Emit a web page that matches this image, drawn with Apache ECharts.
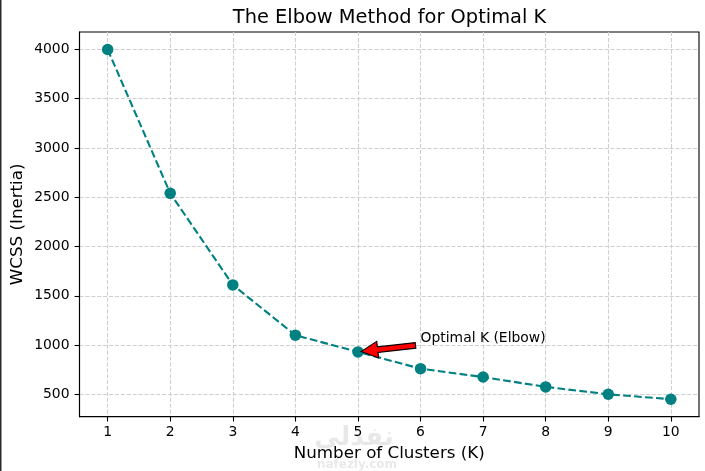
<!DOCTYPE html>
<html>
<head>
<meta charset="utf-8">
<script src="https://cdn.jsdelivr.net/npm/echarts@6/dist/echarts.min.js"></script>
<style>
html,body{margin:0;padding:0;background:#fff;}
#chart{width:705px;height:471px;}
</style>
</head>
<body>
<div id="chart"></div>
<script>
// ---- data ----
const kValues = [1, 2, 3, 4, 5, 6, 7, 8, 9, 10];
const wcss = [4000, 2540, 1610, 1100, 930, 760, 675, 575, 500, 450];
const xTicks = [1, 2, 3, 4, 5, 6, 7, 8, 9, 10];
const yTicks = [500, 1000, 1500, 2000, 2500, 3000, 3500, 4000];
const elbowPoint = [5, 930];
const annotationTextPos = [6, 1000];
const annotationText = 'Optimal K (Elbow)';
const titleText = 'The Elbow Method for Optimal K';
const xLabel = 'Number of Clusters (K)';
const yLabel = 'WCSS (Inertia)';

const FONT = 'DejaVu Sans';
const chart = echarts.init(document.getElementById('chart'), null, {renderer: 'canvas'});

const gridDash = {color: '#cfcfcf', width: 1.1, type: [4.1, 1.8]};

function arrowRender(params, api) {
  const p = api.coord([api.value(0), api.value(1)]);
  const t = api.coord([api.value(2), api.value(3)]);
  const dx = t[0] - p[0], dy = t[1] - p[1];
  const tip = [p[0] + 0.05 * dx, p[1] + 0.05 * dy];
  const tail = [t[0] - 0.08 * dx, t[1] - 0.05 * dy];
  const L = Math.hypot(tail[0] - tip[0], tail[1] - tip[1]);
  const u = [(tail[0] - tip[0]) / L, (tail[1] - tip[1]) / L];
  const n = [-u[1], u[0]];
  const hl = 16.7, hw = 16.7 / 2, sw = 5.6 / 2;
  const b = [tip[0] + u[0] * hl, tip[1] + u[1] * hl];
  const pts = [
    tip,
    [b[0] + n[0] * hw, b[1] + n[1] * hw],
    [b[0] + n[0] * sw, b[1] + n[1] * sw],
    [tail[0] + n[0] * sw, tail[1] + n[1] * sw],
    [tail[0] - n[0] * sw, tail[1] - n[1] * sw],
    [b[0] - n[0] * sw, b[1] - n[1] * sw],
    [b[0] - n[0] * hw, b[1] - n[1] * hw]
  ];
  return {
    type: 'group',
    children: [
      {type: 'polygon', shape: {points: pts}, style: {fill: '#ff0000', stroke: '#000', lineWidth: 1.1}},
      {type: 'text', x: t[0], y: t[1], style: {text: annotationText, fill: '#000', font: '13.9px "' + FONT + '"', textAlign: 'left', textVerticalAlign: 'bottom'}}
    ]
  };
}

const option = {
  animation: false,
  backgroundColor: '#fff',
  textStyle: {fontFamily: FONT},
  grid: {left: 79.5, right: 6, top: 32, bottom: 54.3, show: true, borderColor: '#000', borderWidth: 1.1, backgroundColor: '#fff', containLabel: false, outerBoundsMode: 'none'},
  xAxis: {
    type: 'value', min: 0.55, max: 10.45,
    name: xLabel, nameLocation: 'middle', nameGap: 28, nameMoveOverlap: false,
    nameTextStyle: {fontSize: 16.7, color: '#000', fontFamily: FONT},
    axisLine: {show: true, lineStyle: {color: '#000', width: 1.1}},
    axisTick: {show: true, length: 4.9, lineStyle: {color: '#000', width: 1.1}, customValues: xTicks},
    axisLabel: {color: '#000', fontSize: 13.9, margin: 9, fontFamily: FONT, customValues: xTicks, formatter: v => String(v)},
    splitLine: {show: true, lineStyle: gridDash}
  },
  yAxis: {
    type: 'value', min: 272.5, max: 4177.5,
    name: yLabel, nameLocation: 'middle', nameGap: 53, nameRotate: 90, nameMoveOverlap: false,
    nameTextStyle: {fontSize: 16.7, color: '#000', fontFamily: FONT},
    axisLine: {show: true, lineStyle: {color: '#000', width: 1.1}},
    axisTick: {show: true, length: 4.9, lineStyle: {color: '#000', width: 1.1}, customValues: yTicks},
    axisLabel: {color: '#000', fontSize: 13.9, margin: 10, fontFamily: FONT, customValues: yTicks, formatter: v => String(v)},
    splitLine: {show: true, lineStyle: gridDash}
  },
  series: [
    {
      type: 'line',
      data: kValues.map((k, i) => [k, wcss[i]]),
      symbol: 'circle', symbolSize: 11.5,
      itemStyle: {color: '#008080'},
      lineStyle: {color: '#008080', width: 2.1, type: [7.7, 3.3]},
      z: 3
    },
    {
      type: 'custom',
      renderItem: arrowRender,
      data: [[elbowPoint[0], elbowPoint[1], annotationTextPos[0], annotationTextPos[1]]],
      clip: false,
      silent: true,
      z: 5
    }
  ],
  graphic: [
    {type: 'text', x: 389.5, y: 18, style: {text: titleText, fill: '#000', font: '19.4px "' + FONT + '"', textAlign: 'center', textVerticalAlign: 'middle'}, z: 10},
    {type: 'rect', shape: {x: 0, y: 0, width: 1.5, height: 471}, style: {fill: '#2b2b2b'}, z: 10},
    {type: 'text', x: 354, y: 438, style: {text: 'نفذلي', fill: 'rgba(0,0,0,0.09)', font: 'bold 26px "Noto Sans", "DejaVu Sans"', textAlign: 'center', textVerticalAlign: 'middle'}, z: 10},
    {type: 'text', x: 357, y: 465, style: {text: 'nafezly.com', fill: 'rgba(0,0,0,0.09)', font: 'bold 12px "DejaVu Sans"', textAlign: 'center', textVerticalAlign: 'middle'}, z: 10}
  ]
};
chart.setOption(option);
</script>
</body>
</html>
